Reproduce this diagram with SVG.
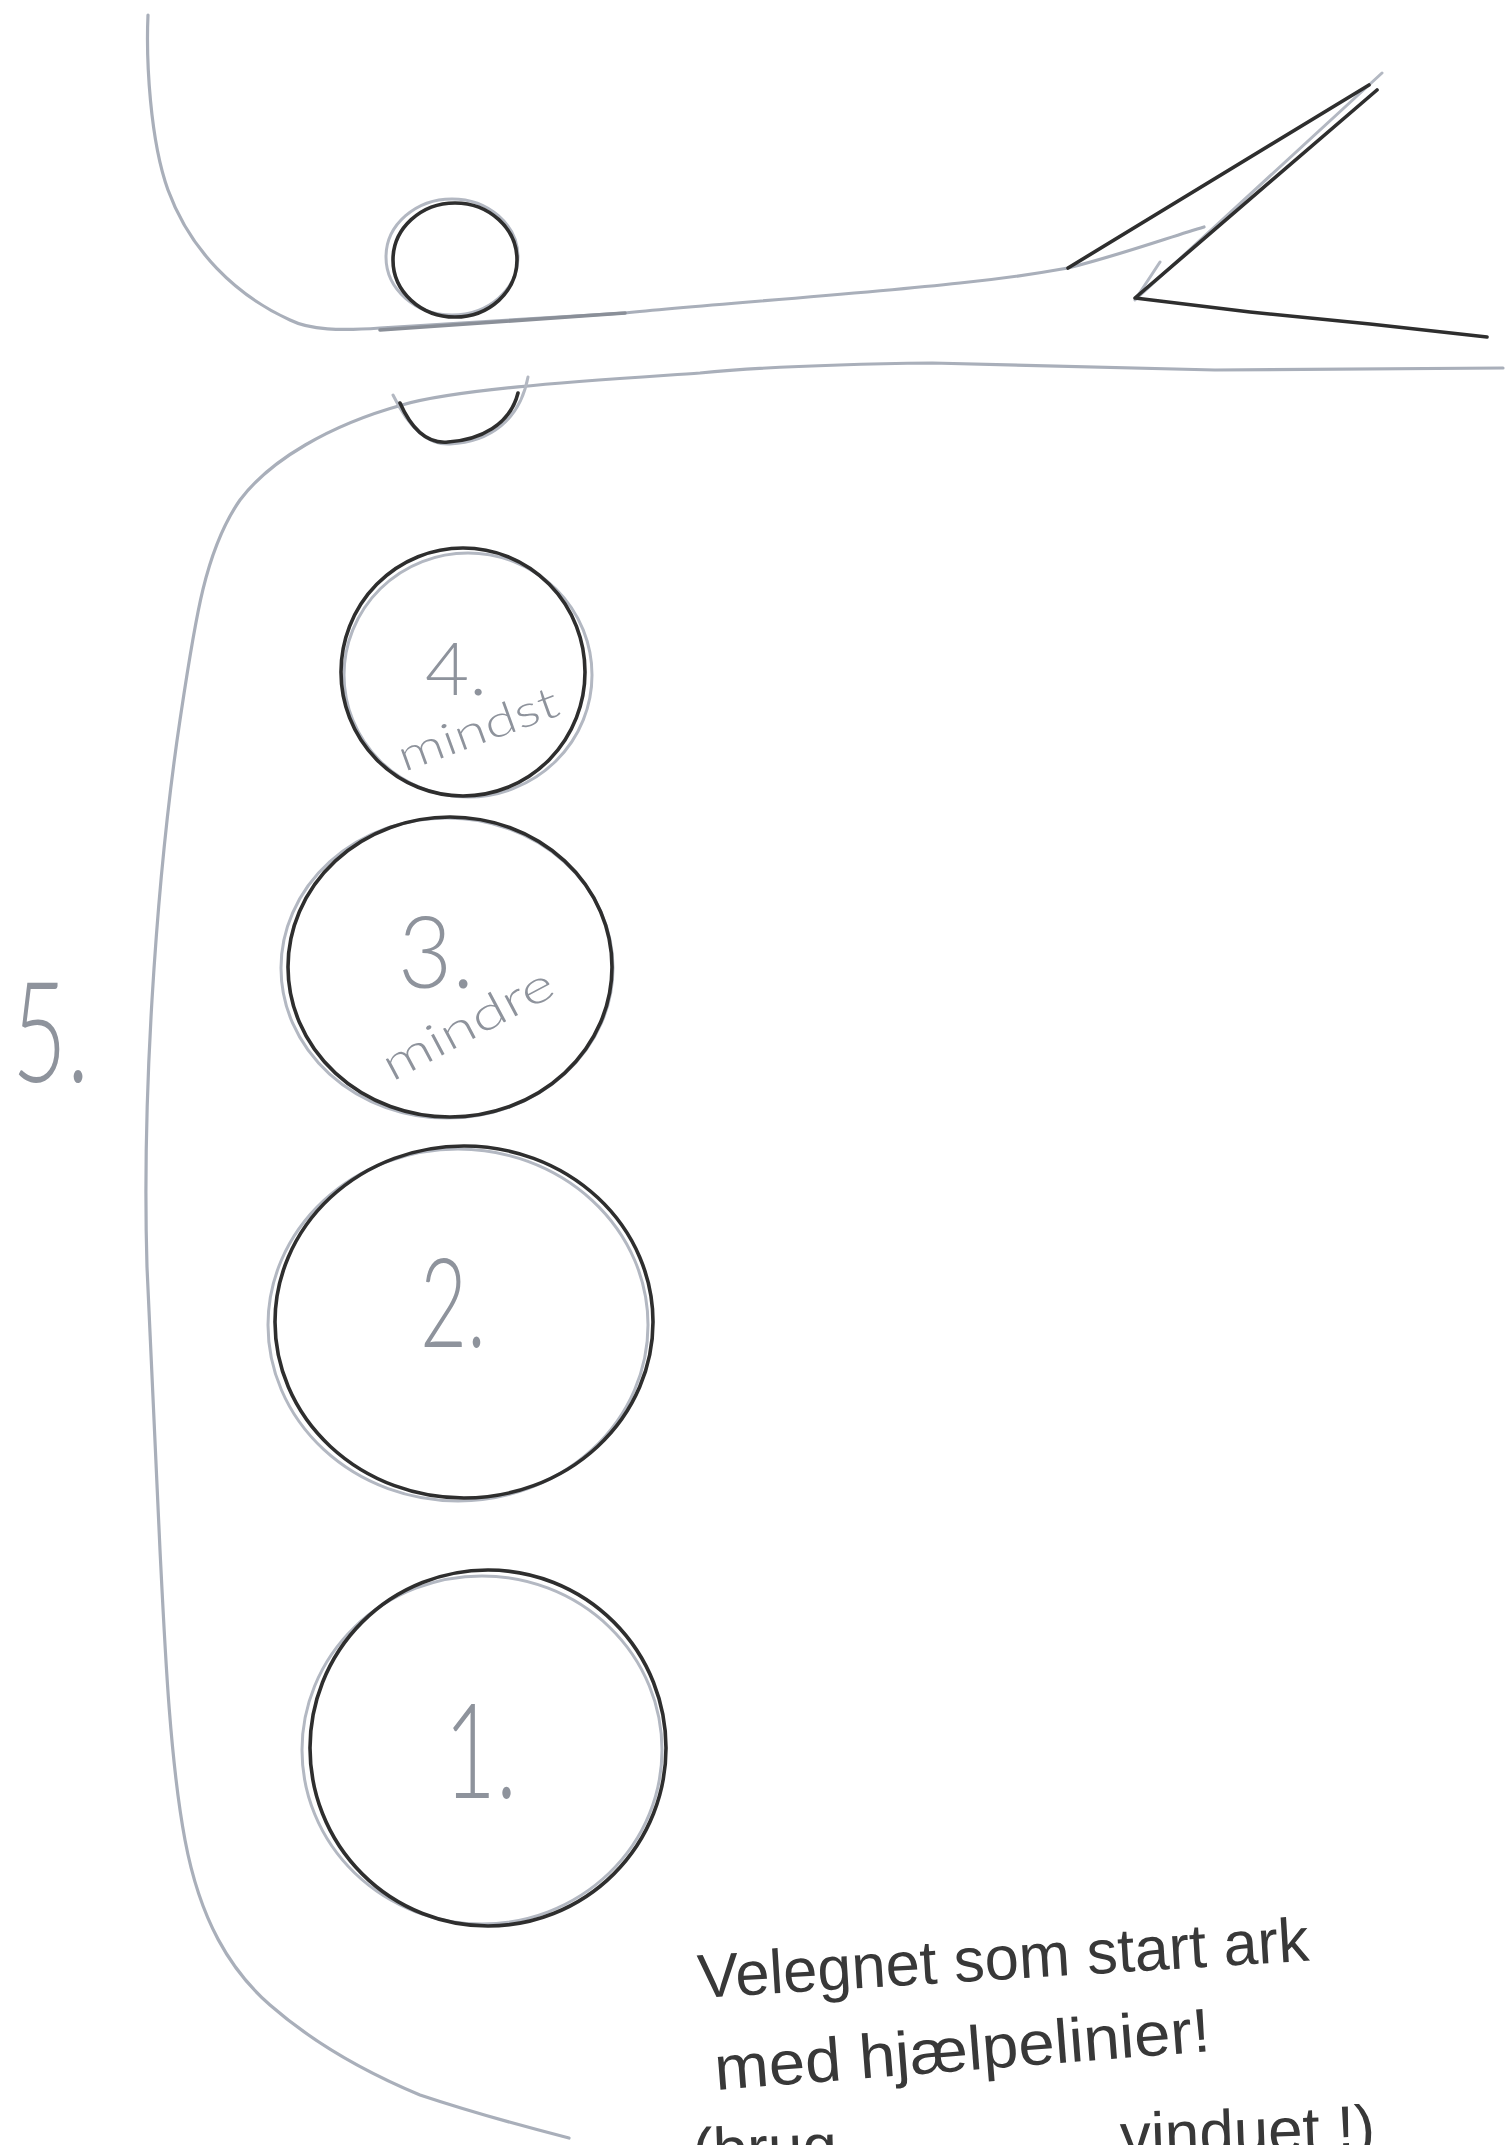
<svg xmlns="http://www.w3.org/2000/svg" width="1507" height="2145" viewBox="0 0 1507 2145">
<style>
.road{fill:none;stroke:#a9afba;stroke-width:3.2;stroke-linecap:round;stroke-linejoin:round}
.roaddk{fill:none;stroke:#8a8f98;stroke-width:3.6;stroke-linecap:round}
.ink{fill:none;stroke:#2e2e2e;stroke-width:3.6;stroke-linecap:round;stroke-linejoin:round}
.ghost{fill:none;stroke:#b3b8c2;stroke-width:3;stroke-linecap:round}
.lbl{font-family:Lato,"Liberation Sans",Arial,sans-serif;font-weight:300;fill:#8e939c}
.note{font-family:"Liberation Sans",Arial,sans-serif;fill:#383838}
</style>
<rect width="1507" height="2145" fill="#ffffff"/>
<g id="connectors">
<path class="road" d="M148,15 C146,60 150,140 168,190 C190,250 235,295 290,320 C310,330 340,331 380,328 L625,313 C700,305 850,295 960,283 C1000,279 1040,273 1068,268 C1120,255 1170,237 1204,227"/>
<path class="roaddk" d="M380,330 L625,313"/>
<path class="road" d="M1503,368 C1400,369 1300,370 1215,370 C1100,368 1000,364 932,363 C850,364 770,366 700,373 C600,380 460,388 402,405 C330,425 270,460 240,500 C205,550 195,620 180,720 C168,800 158,900 152,1000 C146,1100 145,1200 147,1267 C150,1350 155,1450 160,1550 C165,1650 170,1760 185,1840 C200,1920 230,1970 270,2005 C310,2040 360,2070 420,2095 C480,2115 530,2128 569,2138"/>
</g>
<g id="fork">
<path class="ghost" d="M1135,300 L1382,73 M1135,300 L1160,262"/>
<path class="ink" d="M1068,268 L1369,85"/>
<path class="ink" d="M1377,90 L1135,298 L1250,312 L1370,324 L1487,337"/>
</g>
<g id="small-circle">
<ellipse class="ghost" cx="452" cy="257" rx="66" ry="58"/>
<ellipse class="ink" cx="455" cy="260" rx="62" ry="57"/>
</g>
<g id="u-arc">
<path class="ghost" d="M393,395 C410,430 430,445 450,444 C490,442 520,420 528,377"/>
<path class="ink" d="M400,403 C412,430 428,444 448,442 C480,440 510,425 518,393"/>
</g>
<g id="circle-4">
<ellipse class="ghost" cx="468" cy="675" rx="124" ry="122"/>
<ellipse class="ink" cx="463" cy="672" rx="122" ry="124"/>
<text class="lbl" x="425" y="695" font-size="72" textLength="62" lengthAdjust="spacingAndGlyphs">4.</text>
<text class="lbl" x="404" y="772" font-size="44" textLength="168" lengthAdjust="spacingAndGlyphs" transform="rotate(-20 404 772)">mindst</text>
</g>
<g id="circle-3">
<ellipse class="ghost" cx="447" cy="968" rx="166" ry="150"/>
<ellipse class="ink" cx="450" cy="967" rx="162" ry="150"/>
<text class="lbl" x="398" y="988" font-size="100" textLength="76" lengthAdjust="spacingAndGlyphs">3.</text>
<text class="lbl" x="392" y="1082" font-size="46" textLength="188" lengthAdjust="spacingAndGlyphs" transform="rotate(-28 392 1082)">mindre</text>
</g>
<g id="circle-2">
<ellipse class="ghost" cx="458" cy="1325" rx="190" ry="176"/>
<ellipse class="ink" cx="464" cy="1322" rx="189" ry="176"/>
<text class="lbl" x="420" y="1347" font-size="125" textLength="66" lengthAdjust="spacingAndGlyphs">2.</text>
</g>
<g id="circle-1">
<ellipse class="ghost" cx="482" cy="1750" rx="180" ry="174"/>
<ellipse class="ink" cx="488" cy="1748" rx="178" ry="178"/>
<text class="lbl" x="444" y="1798" font-size="132" textLength="73" lengthAdjust="spacingAndGlyphs">1.</text>
</g>
<g id="label-5">
<text class="lbl" x="12" y="1082" font-size="140" textLength="77" lengthAdjust="spacingAndGlyphs">5.</text>
</g>
<g id="note">
<text class="note" x="699" y="1998" font-size="62" textLength="612" lengthAdjust="spacingAndGlyphs" transform="rotate(-3.5 699 1998)">Velegnet som start ark</text>
<text class="note" x="716" y="2090" font-size="62" textLength="497" lengthAdjust="spacingAndGlyphs" transform="rotate(-4.5 716 2090)">med hjælpelinier!</text>
<text class="note" x="693" y="2172" font-size="62" transform="rotate(-2 693 2172)"><tspan>(brug</tspan><tspan x="1121">vinduet !)</tspan></text>
</g>
</svg>
